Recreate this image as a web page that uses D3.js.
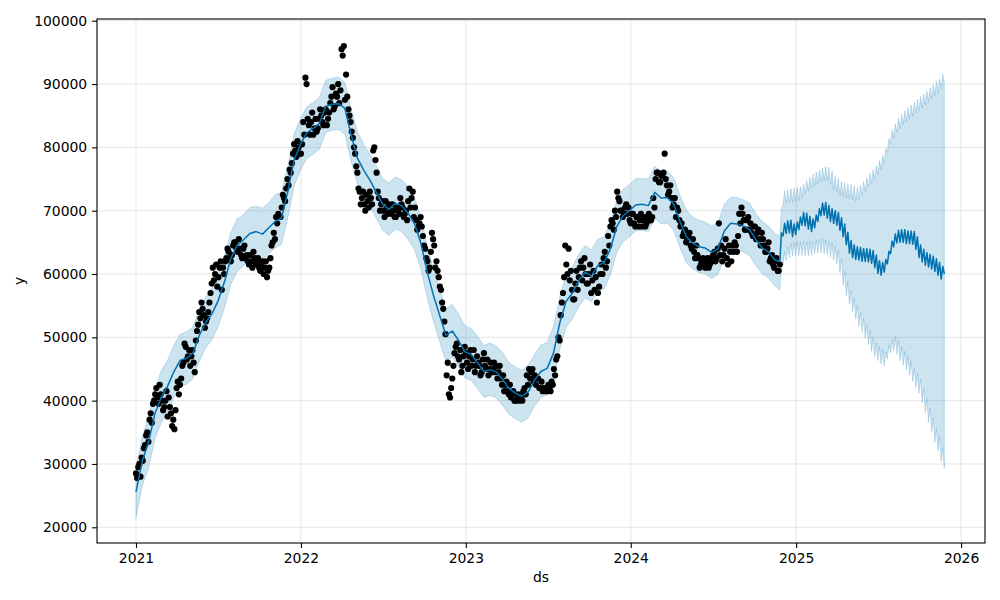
<!DOCTYPE html>
<html>
<head>
<meta charset="utf-8">
<script src="https://cdn.jsdelivr.net/npm/d3@7"></script>
<style>
  body { margin: 0; background: #fff; }
  svg { display: block; font-family: "DejaVu Sans", sans-serif; }
</style>
</head>
<body>
<div id="chart"></div>
<script>
// observed points, one every 5 days from Jan 1 of each year
var obs2021 = [28500, 29500, 28000, 30500, 33000, 35000, 37000, 36500, 40000, 42000,
  39500, 41000, 38500, 40000, 37500, 39000, 36000, 35500, 42000, 41000,
  43500, 46000, 48500, 47000, 45500, 48000, 44500, 51000, 54000, 55500,
  53500, 52500, 54000, 57000, 61000, 60000, 58000, 61000, 57500, 60000,
  62500, 63500, 62000, 64500, 65000, 63500, 64000, 62500, 64500, 63000,
  61500, 62000, 63500, 61500, 62500, 60500, 62000, 61000, 59500, 61000,
  64500, 66500, 69000, 69500, 69000, 72500, 71500, 75000, 76500, 77500,
  80500, 78500, 80000];
var obs2022 = [79000, 84000, 91000, 84500, 82000, 85500, 83000, 82500, 84500, 85000,
  83500, 86000, 84500, 87000, 89500, 86500, 88000, 87000, 95500, 96000,
  91500, 86000, 84000, 81500, 79000, 76000, 73000, 72000, 71000, 72500,
  70500, 72000, 79500, 78000, 73000, 70000, 71500, 69000, 70500, 71000,
  69500, 70000, 69000, 70000, 72000, 70500, 69500, 68500, 73500, 72000,
  69000, 68500, 67500, 69000, 66000, 64000, 62000, 61000, 66500, 64500,
  62000, 59500, 57500, 54500, 50500, 46000, 40500, 43500, 47500, 49000,
  46500, 44500, 47000];
var obs2023 = [47500, 45000, 48000, 46500, 44500, 47000, 45500, 44500, 47500, 45000,
  44000, 46000, 45000, 44500, 43500, 45500, 42500, 41500, 43000, 41000,
  40500, 41500, 40000, 40500, 41000, 40000, 42000, 44000, 45000, 44500,
  43000, 42500, 43500, 42000, 41500, 42000, 41500, 42000, 43000, 45000,
  46500, 50000, 53500, 57000, 64500, 60000, 59000, 57500, 56000, 60500,
  59500, 62000, 61000, 60000, 58500, 61500, 59000, 57500, 55500, 58000,
  61500, 62500, 61000, 66000, 67500, 68000, 70000, 73000, 71500, 70000,
  69500, 71000, 70500];
var obs2024 = [68000, 69500, 67500, 69000, 68500, 67500, 69000, 68000, 69500, 68500,
  72000, 75000, 76000, 74500, 75500, 79000, 74000, 73000, 72000, 71000,
  69000, 70000, 67500, 66000, 67000, 65500, 66500, 64000, 63500, 64500,
  62500, 61500, 62500, 61000, 62500, 61500, 62000, 63500, 62500, 68000,
  64500, 63000, 65500, 61500, 63500, 64500, 65000, 63500, 69500, 70500,
  68500, 67000, 69000, 68000, 66000, 67500, 66500, 65500, 66500, 64500,
  63500, 65000, 62500, 61500, 62000, 60500, 61500];
// the points in between, 2.5 days later
var obs2021b = [27800, 30000, 31000, 32500, 34500, 33500, 38000, 39500, 41000, 40500,
  42500, 40000, 39000, 41500, 40500, 38000, 37000, 38500, 43000, 42500,
  45500, 49000, 46500, 48000, 47000, 46000, 49500, 52000, 53000, 54500,
  51500, 53000, 55500, 58500, 59000, 61500, 59500, 62000, 61000, 62000,
  64000, 62500, 63000, 65000, 64000, 65500, 63000, 64000, 62500, 62000,
  63000, 61000, 62500, 62000, 61000, 61500, 60000, 62000, 60500, 62500,
  65000, 65500, 68000, 69000, 70500, 72000, 73500, 74000, 76000, 79000,
  79500, 81000, 79000];
var obs2022b = [80500, 82000, 90000, 83500, 84000, 82000, 84500, 83000, 86000, 84000,
  85500, 83500, 85500, 88000, 86000, 88500, 90000, 89000, 94500, 87500,
  88000, 85000, 82500, 80000, 77000, 73500, 71000, 73000, 70000, 71500,
  73000, 71000, 80000, 76000, 72000, 71000, 70000, 71500, 69500, 70000,
  71000, 69000, 70500, 69500, 71000, 69000, 70000, 71500, 70500, 73000,
  70500, 67000, 68000, 67500, 64500, 62500, 60500, 63500, 65500, 61000,
  60500, 58000, 55500, 52500, 44000, 41000, 42000, 45500, 48500, 47000,
  48000, 45500, 48500];
var obs2023b = [46000, 47000, 45500, 48000, 45500, 46000, 44000, 46500, 45500, 46500,
  45000, 44500, 46000, 45500, 44500, 43500, 44000, 42500, 41500, 42500,
  41000, 40000, 41000, 40000, 40500, 41500, 41000, 42500, 43500, 45000,
  44000, 43500, 42000, 43000, 42000, 41500, 42500, 41500, 42500, 44000,
  47000, 49500, 55500, 59500, 61500, 64000, 60500, 56000, 58500, 57500,
  61000, 59000, 62500, 58500, 60000, 57000, 60500, 59500, 57000, 60000,
  60000, 63500, 62000, 64500, 68500, 67000, 69000, 72000, 70000, 69000,
  70500, 69500, 68500];
var obs2024b = [69500, 68000, 69000, 67500, 69500, 68500, 67500, 69000, 68500, 69000,
  70500, 76000, 74500, 75500, 76000, 75000, 72500, 74000, 70500, 72000,
  70500, 68500, 68000, 66500, 65000, 66000, 64500, 65500, 62500, 63000,
  61000, 62000, 61500, 62000, 61000, 62500, 63000, 62000, 64000, 63000,
  62000, 64000, 62500, 64500, 62000, 63500, 64500, 66000, 68000, 69500,
  67000, 68500, 67000, 66500, 67500, 65500, 67000, 64500, 65500, 63500,
  64000, 62000, 63000, 61000, 62500, 60500];
var obsStep = 5, obsOffsetB = 2.5;

// fitted values over the history, every 14 days from 2021-01-01
var histStep = 14;
var yhatHist = [25600, 30500, 33500, 38000, 40500, 42300, 44600, 46400, 46700, 47500,
  50300, 52300, 53700, 55800, 58800, 62500, 64500, 65400, 66400, 66700,
  66300, 67300, 68300, 68800, 73000, 78000, 80500, 82300, 83000, 83800,
  86500, 86800, 86900, 86200, 82000, 78300, 76400, 74800, 72900, 71000,
  70200, 71200, 70800, 69600, 68000, 65000, 60500, 56700, 53500, 50300,
  51000, 49500, 47700, 47300, 46000, 44600, 44900, 44500, 43300, 41900,
  41200, 40700, 41400, 43200, 44600, 45100, 47500, 52300, 55700, 57000,
  59000, 60300, 59700, 61300, 61800, 64000, 67500, 69200, 70000, 70900,
  71000, 70800, 72900, 72000, 72100, 71000, 68300, 65900, 64900, 64300,
  64100, 63400, 64000, 66800, 68000, 67900, 67600, 67000, 65400, 64100,
  63500, 62200];
var upperHist = [29500, 34300, 37600, 42000, 44700, 46400, 48800, 50500, 50900, 51600,
  54400, 56300, 57900, 59900, 62900, 66600, 68700, 69400, 70500, 70700,
  70400, 71300, 72500, 72900, 77000, 82100, 84500, 86400, 87100, 87900,
  90600, 90900, 91100, 90300, 86100, 82500, 80500, 78900, 77100, 75100,
  74400, 75300, 74900, 73800, 72100, 69100, 64600, 60900, 57600, 54500,
  55200, 53700, 51800, 51400, 50200, 48700, 49100, 48600, 47500, 46000,
  45300, 44800, 45600, 47300, 48800, 49200, 51700, 56400, 59900, 61200,
  63100, 64500, 63800, 65500, 65900, 68200, 71600, 73400, 74100, 75100,
  75100, 75000, 77000, 76200, 76200, 75200, 72400, 70100, 69000, 68500,
  68200, 67600, 68100, 71000, 72100, 72100, 71700, 71200, 69500, 68300,
  67600, 66400];
var lowerHist = [21500, 26600, 29400, 34000, 36500, 38200, 40500, 42300, 42600, 43400,
  46200, 48300, 49600, 51700, 54700, 58400, 60400, 61300, 62300, 62600,
  62200, 63200, 64100, 64700, 68900, 73900, 76400, 78200, 78900, 79700,
  82400, 82700, 82800, 82100, 77900, 74200, 72300, 70700, 68800, 66900,
  66100, 67100, 66700, 65500, 63900, 60900, 56400, 52600, 49400, 46200,
  46900, 45400, 43600, 43200, 41900, 40500, 40800, 40400, 39200, 37800,
  37100, 36600, 37300, 39100, 40500, 41000, 43400, 48200, 51600, 52900,
  54900, 56200, 55600, 57200, 57700, 59900, 63400, 65100, 65900, 66800,
  66900, 66700, 68800, 67900, 68000, 66900, 64200, 61800, 60800, 60200,
  60000, 59300, 59900, 62700, 63900, 63800, 63500, 62900, 61300, 60000,
  59400, 58100];

// one-year forecast, every 3.5 days from day 1425 (weekly swing low/high)
var fcstStartDay = 1425, fcstStep = 3.5;
var yhatFcst = [62000, 66500, 66000, 68000, 66400, 68400, 66500, 68500, 65900, 67900,
  66200, 68200, 67000, 69000, 67700, 69700, 67600, 69600, 67100, 69100,
  66700, 68700, 67300, 69300, 68300, 70300, 69200, 71200, 69300, 71300,
  68800, 70800, 68300, 70300, 68000, 70000, 67700, 69700, 66900, 68900,
  65900, 67900, 64600, 66600, 63300, 65300, 62600, 64600, 62300, 64300,
  62200, 64200, 62000, 64000, 62000, 64000, 61900, 63900, 61700, 63700,
  61000, 63000, 60100, 62100, 59800, 61800, 60300, 62300, 61600, 63600,
  63200, 65200, 64300, 66300, 64900, 66900, 65000, 67000, 65000, 67000,
  64800, 66800, 64800, 66800, 64700, 66700, 63900, 65900, 62600, 64600,
  61900, 63900, 61400, 63400, 61100, 63100, 60800, 62800, 60400, 62400,
  59800, 61800, 59200, 61200, 60000];
var upperFcst = [66000, 70500, 70900, 73100, 71100, 73300, 71300, 73500, 71400, 73600,
  71500, 73700, 71600, 73800, 72000, 74200, 72600, 74800, 73100, 75300,
  73600, 75800, 73900, 76100, 74200, 76400, 74500, 76700, 74800, 77000,
  74700, 76900, 74100, 76300, 73300, 75500, 72900, 75100, 72400, 74600,
  72200, 74400, 72000, 74200, 71900, 74100, 71700, 73900, 71500, 73700,
  71800, 74000, 72400, 74600, 73000, 75200, 73700, 75900, 74300, 76500,
  74900, 77100, 75700, 77900, 76500, 78700, 77600, 79800, 79200, 81400,
  80600, 82800, 81500, 83700, 82400, 84600, 83000, 85200, 83600, 85800,
  84100, 86300, 84500, 86700, 84900, 87100, 85400, 87600, 85800, 88000,
  86200, 88400, 86700, 88900, 87200, 89400, 87700, 89900, 88200, 90400,
  88600, 90800, 89200, 91600, 90200];
var lowerFcst = [57500, 61500, 61400, 63600, 62100, 64300, 62600, 64800, 62800, 65000,
  62900, 65100, 62900, 65100, 62900, 65100, 62900, 65100, 62900, 65100,
  63000, 65200, 63200, 65400, 63300, 65500, 63400, 65600, 63200, 65400,
  63000, 65200, 62700, 64900, 62200, 64400, 61600, 63800, 60200, 62400,
  58300, 60500, 56600, 58800, 55200, 57400, 54000, 56200, 52900, 55100,
  51700, 53900, 50800, 53000, 49800, 52000, 48900, 51100, 47800, 50000,
  46900, 49100, 46300, 48500, 45800, 48000, 45500, 47700, 46600, 48800,
  47500, 49700, 47900, 50100, 47300, 49500, 46300, 48500, 45600, 47800,
  44900, 47100, 44000, 46200, 43000, 45200, 42100, 44300, 41200, 43400,
  39700, 41900, 38100, 40300, 36600, 38800, 35100, 37300, 33400, 35600,
  32100, 34300, 30400, 32600, 29300];

var yearTicks = [2021, 2022, 2023, 2024, 2025, 2026];
var yTicks = [20000, 30000, 40000, 50000, 60000, 70000, 80000, 90000, 100000];

var width = 1000, height = 600,
  margin = {top: 19, right: 15, bottom: 57, left: 97},
  DAY = 864e5,
  t0 = Date.UTC(2021, 0, 1),
  blue = "#0072B2";

function dayDate(d) { return new Date(t0 + d * DAY); }

var obs = [];
[[obs2021, obs2021b], [obs2022, obs2022b], [obs2023, obs2023b], [obs2024, obs2024b]].forEach(function(pair, yi) {
  var start = Date.UTC(2021 + yi, 0, 1);
  pair[0].forEach(function(v, i) { obs.push({ds: new Date(start + i * obsStep * DAY), y: v}); });
  pair[1].forEach(function(v, i) { obs.push({ds: new Date(start + (i * obsStep + obsOffsetB) * DAY), y: v}); });
});

var fcst = [];
yhatHist.forEach(function(v, i) {
  fcst.push({ds: dayDate(i * histStep), yhat: v, upper: upperHist[i], lower: lowerHist[i]});
});
yhatFcst.forEach(function(v, i) {
  fcst.push({ds: dayDate(fcstStartDay + i * fcstStep), yhat: v, upper: upperFcst[i], lower: lowerFcst[i]});
});

var x = d3.scaleUtc()
  .domain([dayDate(-86.3), dayDate(1879)])
  .range([margin.left, width - margin.right]);
var y = d3.scaleLinear()
  .domain([17520, 100270])
  .range([height - margin.bottom, margin.top]);

var svg = d3.select("#chart").append("svg")
  .attr("width", width)
  .attr("height", height);

svg.append("clipPath").attr("id", "plot")
  .append("rect")
  .attr("x", margin.left).attr("y", margin.top)
  .attr("width", width - margin.left - margin.right)
  .attr("height", height - margin.top - margin.bottom);

var g = svg.append("g").attr("clip-path", "url(#plot)");

// uncertainty band (drawn first, like fill_between)
g.append("path")
  .datum(fcst)
  .attr("d", d3.area()
    .x(function(d) { return x(d.ds); })
    .y0(function(d) { return y(d.lower); })
    .y1(function(d) { return y(d.upper); }))
  .attr("fill", blue)
  .attr("fill-opacity", 0.2)
  .attr("stroke", blue)
  .attr("stroke-opacity", 0.2)
  .attr("stroke-width", 1);

// grid
var grid = g.append("g")
  .attr("stroke", "#808080")
  .attr("stroke-opacity", 0.2)
  .attr("stroke-width", 1);
grid.selectAll(".gx").data(yearTicks).enter().append("line")
  .attr("x1", function(d) { return x(new Date(Date.UTC(d, 0, 1))); })
  .attr("x2", function(d) { return x(new Date(Date.UTC(d, 0, 1))); })
  .attr("y1", margin.top).attr("y2", height - margin.bottom);
grid.selectAll(".gy").data(yTicks).enter().append("line")
  .attr("x1", margin.left).attr("x2", width - margin.right)
  .attr("y1", function(d) { return y(d); })
  .attr("y2", function(d) { return y(d); });

g.append("g").selectAll("circle").data(obs).enter().append("circle")
  .attr("cx", function(d) { return x(d.ds); })
  .attr("cy", function(d) { return y(d.y); })
  .attr("r", 3.1)
  .attr("fill", "#000");

g.append("path")
  .datum(fcst)
  .attr("d", d3.line()
    .x(function(d) { return x(d.ds); })
    .y(function(d) { return y(d.yhat); }))
  .attr("fill", "none")
  .attr("stroke", blue)
  .attr("stroke-width", 1.5)
  .attr("stroke-linejoin", "round");

// axes
var xAxis = d3.axisBottom(x)
  .tickValues(yearTicks.map(function(d) { return new Date(Date.UTC(d, 0, 1)); }))
  .tickFormat(d3.utcFormat("%Y"))
  .tickSize(4.9).tickPadding(4.9);
var yAxis = d3.axisLeft(y)
  .tickValues(yTicks)
  .tickFormat(d3.format("d"))
  .tickSize(4.9).tickPadding(4.9);

svg.append("g")
  .attr("transform", "translate(0," + (height - margin.bottom) + ")")
  .call(xAxis)
  .call(function(a) { a.select(".domain").remove(); });
svg.append("g")
  .attr("transform", "translate(" + margin.left + ",0)")
  .call(yAxis)
  .call(function(a) { a.select(".domain").remove(); });

svg.selectAll(".tick line").attr("stroke", "#000").attr("stroke-width", 1.1);
svg.selectAll(".tick text")
  .attr("fill", "#000")
  .style("font-size", "13.9px")
  .style("font-family", "'DejaVu Sans', sans-serif");

svg.append("rect")
  .attr("x", margin.left).attr("y", margin.top)
  .attr("width", width - margin.left - margin.right)
  .attr("height", height - margin.top - margin.bottom)
  .attr("fill", "none")
  .attr("stroke", "#000")
  .attr("stroke-width", 1.1);

svg.append("text")
  .attr("x", (margin.left + width - margin.right) / 2)
  .attr("y", 582)
  .attr("text-anchor", "middle")
  .style("font-size", "13.9px")
  .text("ds");

svg.append("text")
  .attr("transform", "translate(24," + ((margin.top + height - margin.bottom) / 2) + ") rotate(-90)")
  .attr("text-anchor", "middle")
  .style("font-size", "13.9px")
  .text("y");
</script>
</body>
</html>
